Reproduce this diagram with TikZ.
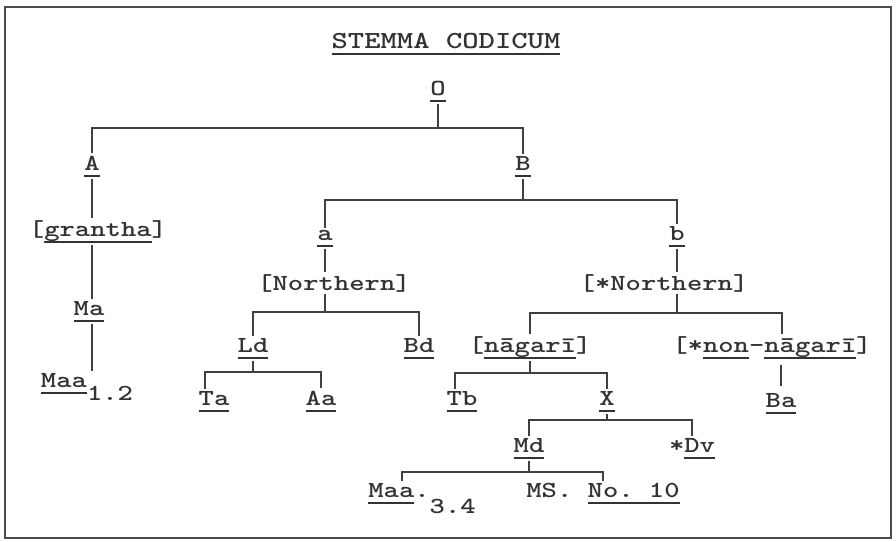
\documentclass[tikz,border=0pt]{standalone}
\usepackage{tikz}
\usetikzlibrary{positioning,calc}
\newsavebox{\tulbox}
\newcommand{\tul}[1]{\sbox\tulbox{#1}\rlap{\rule[-6.5pt]{\wd\tulbox}{1.3pt}}\usebox\tulbox}

\begin{document}
\begin{tikzpicture}[x=1pt,y=-1pt,
  wit/.style={font=\ttfamily\bfseries\frenchspacing\fontsize{23}{27}\selectfont,
    text=cink,inner sep=2pt,anchor=base,xscale=1.27},
  stem/.style={line width=1.7pt,cline}]
\colorlet{cink}{black!80}\colorlet{cline}{black!75}
\useasboundingbox (0,0) rectangle (896,541);
% frame
\draw[line width=2.4pt,black!70] (5,7) rectangle (891,538);
% title
\node[wit,font=\ttfamily\bfseries\frenchspacing\fontsize{24.5}{29}\selectfont] (title)
  at (446,48) {\tul{STEMMA CODICUM}};
% archetype O and the two families
\node[wit] (O) at (438,95) {\tul{O}};
\node[wit] (A) at (92,170) {\tul{A}};
\node[wit] (B) at (523,170) {\tul{B}};
\coordinate (jO) at (438,128);
\draw[stem] (O.south) -- (jO);
\draw[stem] (A.north) |- (jO) -| (B.north);
% grantha line of A
\node[wit] (gra) at (98,236) {[\tul{grantha}]};
\node[wit] (Ma) at (89,315) {\tul{Ma}};
\node[wit] (Maa12) at (87,387) {\tul{Maa}\raisebox{-13pt}{1.2}};
\draw[stem] (A.south) -- (A.south |- gra.north);
\draw[stem] (A.south |- gra.south) -- (A.south |- Ma.north);
\draw[stem] (A.south |- Ma.south) -- (A.south |- Maa12.north);
% B splits into a and b
\node[wit] (a) at (325,240) {\tul{a}};
\node[wit] (b) at (677,240) {\tul{b}};
\coordinate (jB) at (523,200);
\draw[stem] (B.south) -- (jB);
\draw[stem] (a.north) |- (jB) -| (b.north);
\node[wit] (nN) at (334,290) {[Northern]};
\node[wit] (sN) at (664,290) {[*Northern]};
\draw[stem] (a.south) -- (a.south |- nN.north);
\draw[stem] (b.south) -- (b.south |- sN.north);
% Northern group
\node[wit] (Ld) at (253,352) {\tul{Ld}};
\node[wit] (Bd) at (419,352) {\tul{Bd}};
\coordinate (jN) at (325,312);
\draw[stem] (a.south |- nN.south) -- (jN);
\draw[stem] (Ld.north) |- (jN) -| (Bd.north);
\node[wit] (Ta) at (214,405) {\tul{Ta}};
\node[wit] (Aa) at (321,405) {\tul{Aa}};
\coordinate (jLd) at (253,372);
\draw[stem] (Ld.south) -- (jLd);
\draw[stem] ([xshift=-9pt]Ta.north) |- (jLd) -| (Aa.north);
% *Northern group
\node[wit] (nag) at (530,352) {[\tul{nāgarī}]};
\node[wit] (nonnag) at (772,352) {[*\tul{non}-\tul{nāgarī}]};
\coordinate (jb) at (677,313);
\draw[stem] (b.south |- sN.south) -- (jb);
\draw[stem] (nag.north) |- (jb) -| ([xshift=10pt]nonnag.north);
\node[wit] (Tb) at (462,405) {\tul{Tb}};
\node[wit] (X) at (607,405) {\tul{X}};
\node[wit] (Ba) at (781,407) {\tul{Ba}};
\coordinate (jnag) at (530,373);
\draw[stem] (nag.south) -- (jnag);
\draw[stem] ([xshift=-7pt]Tb.north) |- (jnag) -| (X.north);
\draw[stem,shorten <=4pt,shorten >=5pt] (Ba.north |- nonnag.south) -- (Ba.north);
% X and its descendants
\node[wit] (Md) at (529,452) {\tul{Md}};
\node[wit] (Dv) at (692,452) {*\tul{Dv}};
\coordinate (jX) at (607,420);
\draw[stem] (X.south) -- (jX);
\draw[stem] (Md.north) |- (jX) -| (Dv.north);
\node[wit] (Maa34) at (422,497) {\tul{Maa}.\raisebox{-16pt}{3.4}};
\node[wit] (MSno) at (603,497) {MS. \tul{No. 10}};
\coordinate (jMd) at (529,472);
\draw[stem] (Md.south) -- (jMd);
\draw[stem] ([xshift=-20pt]Maa34.north) |- (jMd) -| (MSno.north);
\end{tikzpicture}
\end{document}
